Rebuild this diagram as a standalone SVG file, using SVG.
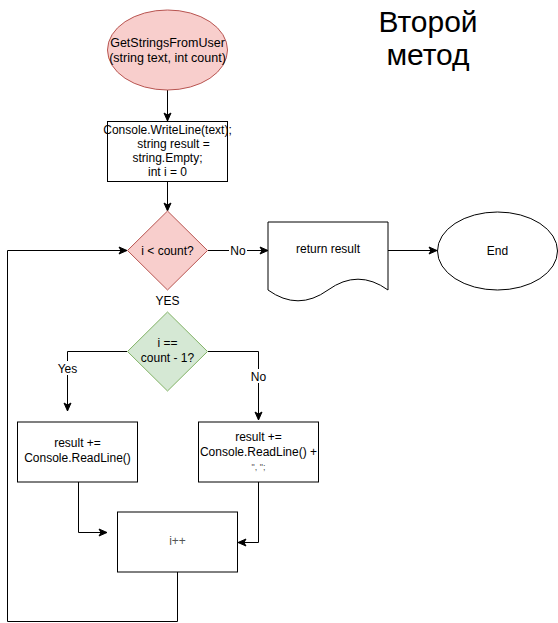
<svg xmlns="http://www.w3.org/2000/svg" width="558" height="623" viewBox="0 0 558 623">
<defs>
<marker id="arr" markerWidth="10" markerHeight="10" refX="9" refY="5" orient="auto" markerUnits="userSpaceOnUse">
<path d="M1,1.5 L9,5 L1,8.5 L3,5 Z" fill="#000" stroke="#000" stroke-width="1"/>
</marker>
</defs>
<style>
text{font-family:"Liberation Sans",Arial,sans-serif;font-size:12px;fill:#000;text-anchor:middle}
.box{fill:#fff;stroke:#000;stroke-width:1}
.red{fill:#f8cecc;stroke:#b85450;stroke-width:1}
.green{fill:#d5e8d4;stroke:#82b366;stroke-width:1}
.edge{fill:none;stroke:#000;stroke-width:1;marker-end:url(#arr)}
.line{fill:none;stroke:#000;stroke-width:1}
.lbl{fill:#fff;stroke:none}
.title{font-size:30px}
</style>
<rect width="558" height="623" fill="#fff"/>
<g id="connectors">
<path class="edge" d="M167.5,90 V121"/>
<path class="edge" d="M167.5,182 V211"/>
<path class="edge" d="M208,250.5 H268"/>
<path class="edge" d="M388,250.5 H437"/>
<path class="edge" d="M127,351.5 H67.5 V411"/>
<path class="edge" d="M208,351.5 H258.5 V420"/>
<path class="edge" d="M78.5,482 V532.5 H107"/>
<path class="edge" d="M258.5,482 V542.5 H238"/>
<path class="edge" d="M177.5,572 V621.5 H7.5 V250.5 H127"/>
<rect class="lbl" x="229" y="243" width="18" height="14"/>
<text x="238" y="254.5">No</text>
<rect class="lbl" x="155" y="293" width="26" height="14"/>
<text x="167.5" y="304.5">YES</text>
<rect class="lbl" x="55" y="361" width="25" height="14"/>
<text x="67.5" y="372.5">Yes</text>
<rect class="lbl" x="250" y="369" width="18" height="14"/>
<text x="258.5" y="380.5">No</text>
</g>
<g id="start">
<ellipse class="red" cx="167.5" cy="50" rx="60" ry="40"/>
<text x="167.5" y="47" style="font-size:12.5px">GetStringsFromUser</text>
<text x="167.5" y="62" style="font-size:12.5px">(string text, int count)</text>
</g>
<g id="init">
<rect class="box" x="107.5" y="121.5" width="120" height="60"/>
<text x="167.5" y="134">Console.WriteLine(text);</text>
<text x="173.5" y="148">string result =</text>
<text x="167.5" y="162">string.Empty;</text>
<text x="167.5" y="176">int i = 0</text>
</g>
<g id="cond1">
<path class="red" d="M167.5,211 L207.5,250.5 L167.5,290 L127.5,250.5 Z"/>
<text x="167.5" y="254.5">i &lt; count?</text>
</g>
<g id="ret">
<path class="box" d="M268,222 H388 V290 Q358,268.4 328,290 Q298,311.6 268,290 Z"/>
<text x="328" y="253">return result</text>
</g>
<g id="end">
<ellipse class="box" cx="497.5" cy="251" rx="60" ry="39"/>
<text x="497.5" y="255">End</text>
</g>
<g id="cond2">
<path class="green" d="M167.5,312 L207.5,351.5 L167.5,391 L127.5,351.5 Z"/>
<text x="167.5" y="347">i ==</text>
<text x="167.5" y="362">count - 1?</text>
</g>
<g id="readLast">
<rect class="box" x="17.5" y="422" width="120" height="60"/>
<text x="77.5" y="447">result +=</text>
<text x="77.5" y="462">Console.ReadLine()</text>
</g>
<g id="readNext">
<rect class="box" x="198.5" y="422" width="120" height="60"/>
<text x="258.5" y="441">result +=</text>
<text x="258.5" y="456">Console.ReadLine() +</text>
<text x="258.5" y="470" style="font-size:9px;fill:#555">", ";</text>
</g>
<g id="inc">
<rect class="box" x="117.5" y="512" width="120" height="60"/>
<text x="177.5" y="545" style="fill:#555">i++</text>
</g>
<g id="title">
<text class="title" x="428" y="31.5">Второй</text>
<text class="title" x="428" y="65">метод</text>
</g>
</svg>
